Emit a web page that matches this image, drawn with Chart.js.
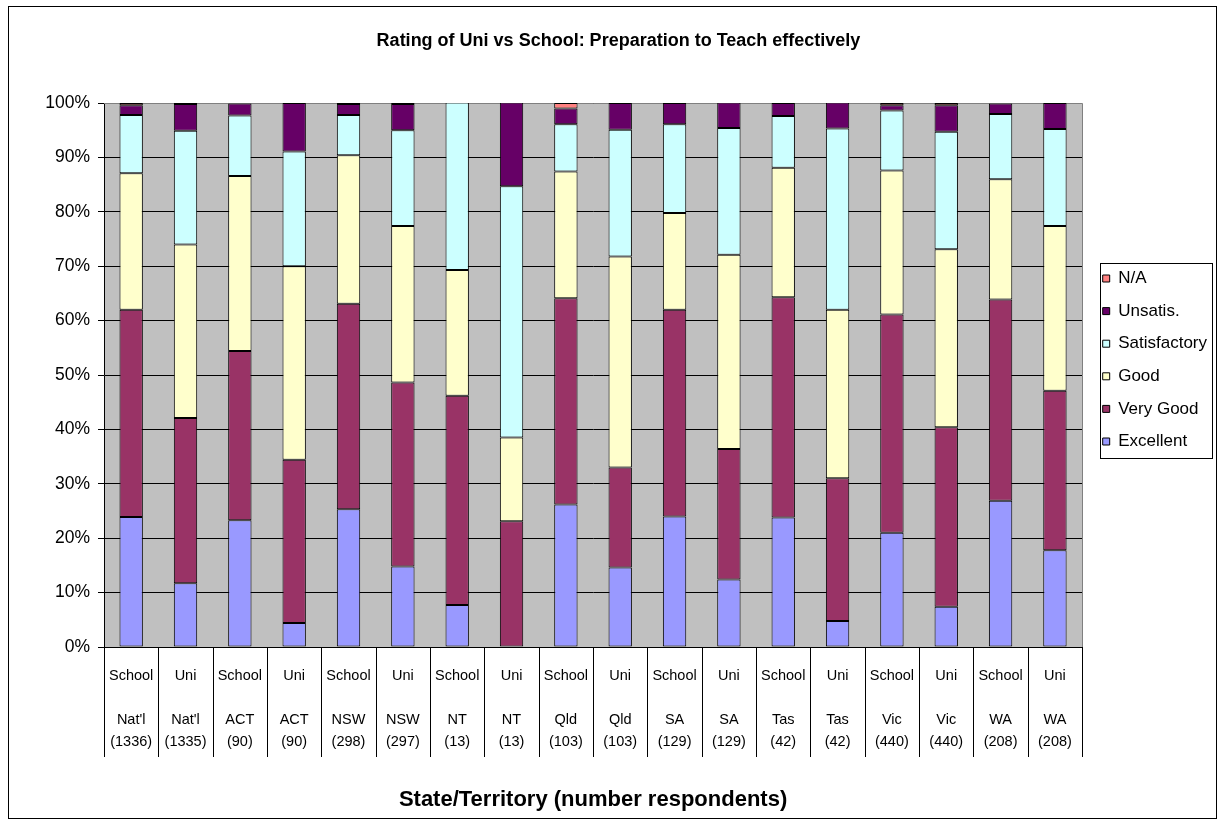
<!DOCTYPE html>
<html>
<head>
<meta charset="utf-8">
<title>Rating of Uni vs School: Preparation to Teach effectively</title>
<script src="https://cdn.jsdelivr.net/npm/chart.js@4.4.1/dist/chart.umd.min.js"></script>
<style>
  html, body { margin: 0; padding: 0; background: #fff; }
  #wrap { position: relative; width: 1220px; height: 823px; }
</style>
</head>
<body>
<div id="wrap"><canvas id="rating-chart"></canvas></div>
<script>
// rating chart — 100% stacked columns, School vs Uni per state
const groups = ['School', 'Uni', 'School', 'Uni', 'School', 'Uni', 'School', 'Uni', 'School',
  'Uni', 'School', 'Uni', 'School', 'Uni', 'School', 'Uni', 'School', 'Uni'];
const regions = ["Nat'l", "Nat'l", 'ACT', 'ACT', 'NSW', 'NSW', 'NT', 'NT', 'Qld',
  'Qld', 'SA', 'SA', 'Tas', 'Tas', 'Vic', 'Vic', 'WA', 'WA'];
const respondents = [1336, 1335, 90, 90, 298, 297, 13, 13, 103, 103, 129, 129, 42, 42, 440, 440, 208, 208];

// percentages
const excellent    = [23.9, 11.7, 23.3, 4.4, 25.3, 14.8, 7.7, 0, 26.2, 14.6, 24.0, 12.4, 23.8, 4.8, 21.0, 7.4, 26.9, 17.8];
const veryGood     = [38.1, 30.4, 31.1, 30.0, 37.8, 33.8, 38.5, 23.1, 37.9, 18.4, 38.0, 24.0, 40.5, 26.2, 40.1, 33.0, 37.0, 29.3];
const good         = [25.1, 31.9, 32.2, 35.6, 27.3, 28.8, 23.1, 15.4, 23.3, 38.8, 17.8, 35.7, 23.8, 31.0, 26.5, 32.7, 22.1, 30.3];
const satisfactory = [10.7, 20.9, 11.1, 21.1, 7.4, 17.6, 30.8, 46.2, 8.7, 23.3, 16.3, 23.3, 9.5, 33.3, 11.0, 21.6, 12.0, 17.8];
const unsatis      = [1.8, 4.9, 2.2, 8.9, 2.0, 4.8, 0, 15.4, 2.9, 4.9, 3.9, 4.7, 2.4, 4.8, 1.0, 4.9, 1.9, 4.8];
const notApplicable = [0.4, 0.2, 0, 0, 0.2, 0.2, 0, 0, 1.0, 0, 0, 0, 0, 0, 0.4, 0.4, 0, 0];

const yTicks = [0, 10, 20, 30, 40, 50, 60, 70, 80, 90, 100];

const SANS = "'Liberation Sans', Arial, sans-serif";

Chart.defaults.font.family = SANS;
Chart.defaults.color = '#000';

const labels = groups.map((g, i) => [g, '', regions[i], '(' + respondents[i] + ')']);

function series(label, data, color) {
  return {
    label,
    data,
    backgroundColor: color,
    borderColor: '#000',
    borderWidth: 1,
    borderSkipped: false,
    barPercentage: 0.43,
    categoryPercentage: 1,
  };
}

const SEPARATOR_LEN = 110;

// frame, grey plot area, category separators, legend box
const excelLook = {
  id: 'excelLook',
  afterLayout(chart) {
    const L = chart.legend;
    if (!L) return;
    L.top -= 15; L.bottom -= 15;
    L.left += 5; L.right += 5;
  },
  beforeDraw(chart) {
    const { ctx, chartArea: a } = chart;
    ctx.save();
    ctx.fillStyle = '#fff';
    ctx.fillRect(0, 0, chart.width, chart.height);
    ctx.fillStyle = '#c0c0c0';
    ctx.fillRect(a.left, a.top, a.right - a.left, a.bottom - a.top);
    ctx.restore();
  },
  beforeDatasetsDraw(chart) {
    const { ctx, chartArea: a } = chart;
    ctx.save();
    ctx.strokeStyle = '#808080';
    ctx.lineWidth = 1;
    ctx.beginPath();
    ctx.moveTo(a.left, Math.round(a.top) + 0.5);
    ctx.lineTo(Math.round(a.right) + 0.5, Math.round(a.top) + 0.5);
    ctx.lineTo(Math.round(a.right) + 0.5, a.bottom);
    ctx.stroke();
    ctx.restore();
  },
  afterDraw(chart) {
    const ctx = chart.ctx;
    const x = chart.scales.x;
    ctx.save();
    ctx.strokeStyle = '#000';
    ctx.lineWidth = 1;

    // separators between categories, below the axis
    const n = chart.data.labels.length;
    ctx.beginPath();
    for (let i = 0; i <= n; i++) {
      let px;
      if (i === 0) px = x.left;
      else if (i === n) px = x.right;
      else px = (x.getPixelForValue(i - 1) + x.getPixelForValue(i)) / 2;
      px = Math.round(px) + 0.5;
      ctx.moveTo(px, x.top);
      ctx.lineTo(px, x.top + SEPARATOR_LEN);
    }
    ctx.stroke();

    ctx.strokeRect(8.5, 6.5, 1208, 812);

    const L = chart.legend;
    if (L && L.columnSizes) {
      const pad = L.options.labels.padding;
      const col = L.columnSizes[0];
      const y0 = (L.top + pad + L.bottom - col.height) / 2;
      const x0 = L.left + pad;
      ctx.strokeRect(Math.round(x0 - 3) + 0.5, Math.round(y0 - 7) + 0.5,
        Math.round(col.width + 8), Math.round(col.height - pad + 15));
    }
    ctx.restore();
  }
};

const ctx = document.getElementById('rating-chart').getContext('2d');
new Chart(ctx, {
  type: 'bar',
  data: {
    labels,
    datasets: [
      series('Excellent', excellent, '#9999ff'),
      series('Very Good', veryGood, '#993366'),
      series('Good', good, '#ffffcc'),
      series('Satisfactory', satisfactory, '#ccffff'),
      series('Unsatis.', unsatis, '#660066'),
      series('N/A', notApplicable, '#ff8080'),
    ]
  },
  options: {
    responsive: true,
    maintainAspectRatio: false,
    animation: false,
    layout: { padding: { left: 25, right: 8, top: 6, bottom: 8 } },
    plugins: {
      title: {
        display: true,
        text: 'Rating of Uni vs School: Preparation to Teach effectively',
        font: { family: SANS, size: 18, weight: 'bold', lineHeight: 1.2 },
        color: '#000',
        padding: { top: 24, bottom: 51.4 },
      },
      legend: {
        display: true,
        position: 'right',
        fullSize: false,
        reverse: true,
        labels: {
          font: { family: SANS, size: 17 },
          color: '#000',
          boxWidth: 7,
          boxHeight: 7,
          padding: 15.6,
        }
      },
      tooltip: { enabled: false }
    },
    scales: {
      x: {
        stacked: true,
        offset: true,
        grid: { display: false },
        border: { display: true, color: '#000', width: 1 },
        ticks: {
          autoSkip: false,
          maxRotation: 0,
          padding: 10,
          font: { family: SANS, size: 14.5, lineHeight: '22px' },
          color: '#000',
        },
        title: {
          display: true,
          text: 'State/Territory (number respondents)',
          font: { family: SANS, size: 22, weight: 'bold', lineHeight: 1.2 },
          color: '#000',
          padding: { top: 23.8, bottom: 1.8 },
        }
      },
      y: {
        stacked: true,
        min: 0,
        max: 100,
        afterFit(scale) { scale.width = 79; },
        afterBuildTicks(scale) { scale.ticks = yTicks.map(v => ({ value: v })); },
        grid: {
          color: '#000',
          lineWidth: 1,
          drawTicks: true,
          tickLength: 6,
        },
        border: { display: true, color: '#000', width: 1 },
        ticks: {
          padding: 8,
          font: { family: SANS, size: 17.5 },
          color: '#000',
          callback: v => v + '%',
        }
      }
    }
  },
  plugins: [excelLook]
});
</script>
</body>
</html>
